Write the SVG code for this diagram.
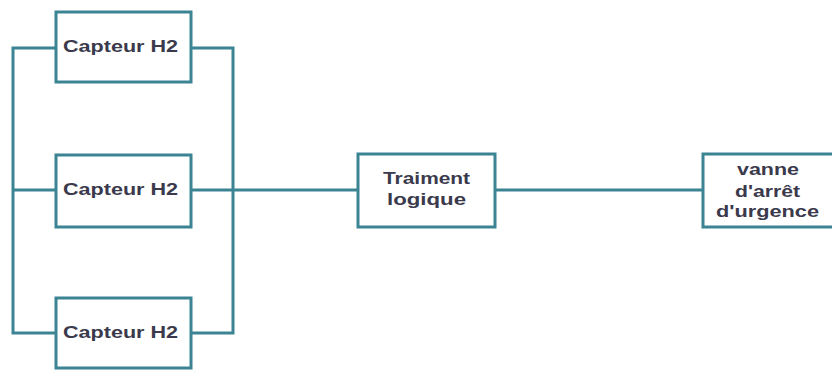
<svg xmlns="http://www.w3.org/2000/svg" width="832" height="372" viewBox="0 0 832 372">
  <style>
    .box { fill: #ffffff; stroke: #3b8494; stroke-width: 3; }
    .wire { fill: none; stroke: #3b8494; stroke-width: 3; }
    .label { font-family: "Liberation Sans", Arial, sans-serif; font-weight: bold; font-size: 16px; fill: #3a3a4c; text-anchor: middle; }
  </style>
  <rect width="832" height="372" fill="#ffffff"/>

  <!-- connectors: three sensors in parallel, then logic, then valve -->
  <g id="connectors">
    <path class="wire" d="M56,48 H13 V333 H56"/>
    <path class="wire" d="M13,190 H56"/>
    <path class="wire" d="M191,48 H233 V333 H191"/>
    <path class="wire" d="M191,190 H358"/>
    <path class="wire" d="M495,190 H703"/>
  </g>

  <g id="capteur1">
    <rect class="box" x="56" y="12" width="135" height="70"/>
    <text class="label" x="120.5" y="52" textLength="115" lengthAdjust="spacingAndGlyphs">Capteur H2</text>
  </g>

  <g id="capteur2">
    <rect class="box" x="56" y="155" width="135" height="72"/>
    <text class="label" x="120.5" y="195" textLength="115" lengthAdjust="spacingAndGlyphs">Capteur H2</text>
  </g>

  <g id="capteur3">
    <rect class="box" x="56" y="298" width="135" height="70"/>
    <text class="label" x="120.5" y="338" textLength="115" lengthAdjust="spacingAndGlyphs">Capteur H2</text>
  </g>

  <g id="traitement">
    <rect class="box" x="358" y="154" width="137" height="73"/>
    <text class="label" x="426.5" y="183.5" textLength="87" lengthAdjust="spacingAndGlyphs">Traiment</text>
    <text class="label" x="426.5" y="205" textLength="79" lengthAdjust="spacingAndGlyphs">logique</text>
  </g>

  <g id="vanne">
    <rect class="box" x="703" y="154" width="137" height="73"/>
    <text class="label" x="768" y="175" textLength="62" lengthAdjust="spacingAndGlyphs">vanne</text>
    <text class="label" x="767.5" y="196.5" textLength="65" lengthAdjust="spacingAndGlyphs">d'arrêt</text>
    <text class="label" x="767.5" y="217" textLength="103" lengthAdjust="spacingAndGlyphs">d'urgence</text>
  </g>
</svg>
